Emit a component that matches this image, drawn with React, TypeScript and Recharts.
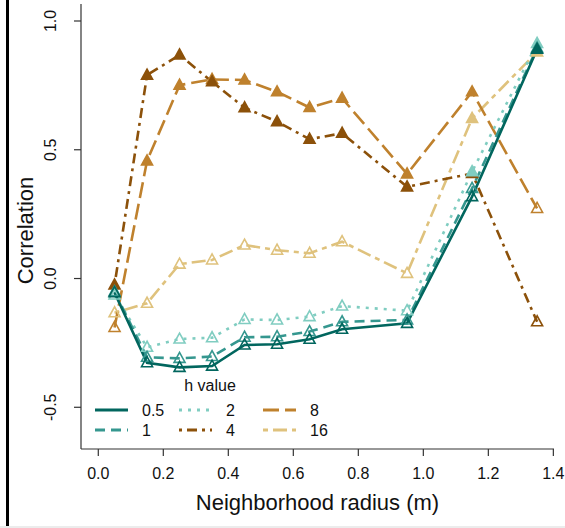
import React from "react";
import { LineChart, Line, XAxis, YAxis, Legend, Label } from "recharts";

// neighborhood radius (m) sampled
const radius = [0.05, 0.15, 0.25, 0.35, 0.45, 0.55, 0.65, 0.75, 0.95, 1.15, 1.35];

// correlation per h value
const h05 = [-0.055, -0.327, -0.345, -0.34, -0.258, -0.255, -0.236, -0.197, -0.174, 0.318, 0.89];
const h1 = [-0.051, -0.306, -0.31, -0.303, -0.228, -0.226, -0.206, -0.168, -0.161, 0.35, 0.895];
const h2 = [-0.064, -0.267, -0.235, -0.23, -0.159, -0.161, -0.148, -0.107, -0.125, 0.415, 0.913];
const h4 = [-0.025, 0.79, 0.868, 0.764, 0.663, 0.609, 0.541, 0.564, 0.356, 0.408, -0.168];
const h8 = [-0.19, 0.457, 0.751, 0.773, 0.771, 0.725, 0.664, 0.7, 0.406, 0.725, 0.272];
const h16 = [-0.133, -0.096, 0.056, 0.072, 0.13, 0.11, 0.098, 0.143, 0.02, 0.622, 0.88];

// filled marker = significant
const sig05 = [false, false, false, false, false, false, false, false, false, false, true];
const sig1 = [false, false, false, false, false, false, false, false, false, false, true];
const sig2 = [false, false, false, false, false, false, false, false, false, true, true];
const sig4 = [true, true, true, true, true, true, true, true, true, true, false];
const sig8 = [false, true, true, true, true, true, true, true, true, true, false];
const sig16 = [false, false, false, false, false, false, false, false, false, true, true];

const xTicks = [0, 0.2, 0.4, 0.6, 0.8, 1.0, 1.2, 1.4];
const yTicks = [-0.5, 0, 0.5, 1.0];

const FONT = '"Liberation Sans", Arial, sans-serif';

const series = [
  { key: "h05", label: "0.5", values: h05, sig: sig05, color: "#01665E", dash: undefined },
  { key: "h1", label: "1", values: h1, sig: sig1, color: "#35978F", dash: "10 6" },
  { key: "h2", label: "2", values: h2, sig: sig2, color: "#80CDC1", dash: "3 6" },
  { key: "h4", label: "4", values: h4, sig: sig4, color: "#8C510A", dash: "3 5 10 5" },
  { key: "h8", label: "8", values: h8, sig: sig8, color: "#BF812D", dash: "16 6" },
  { key: "h16", label: "16", values: h16, sig: sig16, color: "#DFC27D", dash: "5 5 14 5" },
];

const data = radius.map((r, i) => {
  const row: any = { r };
  series.forEach((s) => (row[s.key] = s.values[i]));
  return row;
});

const triangle = (sig: boolean[], color: string) => (p: any) => {
  const { cx, cy, index } = p;
  if (cx == null || cy == null) return <g key={index} />;
  const filled = sig[index];
  const pts = `${cx},${cy - 6} ${cx - 5.5},${cy + 4} ${cx + 5.5},${cy + 4}`;
  return (
    <polygon
      key={index}
      points={pts}
      fill={filled ? color : "none"}
      stroke={color}
      strokeWidth={1.6}
      strokeLinejoin="miter"
    />
  );
};

const XTick = (p: any) => (
  <text x={p.x} y={p.y + 21} textAnchor="middle" fontSize={16} fill="#111" fontFamily={FONT}>
    {Number(p.payload.value).toFixed(1)}
  </text>
);

const YTick = (p: any) => {
  const bx = p.x - 16;
  return (
    <text
      x={bx}
      y={p.y}
      transform={`rotate(-90, ${bx}, ${p.y})`}
      textAnchor="middle"
      fontSize={16}
      fill="#111"
      fontFamily={FONT}
    >
      {Number(p.payload.value).toFixed(1)}
    </text>
  );
};

const YTitle = ({ viewBox }: any) => {
  const cy = viewBox.y + viewBox.height / 2 + 4;
  const bx = 33;
  return (
    <text x={bx} y={cy} transform={`rotate(-90, ${bx}, ${cy})`} textAnchor="middle" fontSize={22} fill="#111" fontFamily={FONT}>
      Correlation
    </text>
  );
};

const XTitle = ({ viewBox }: any) => (
  <text x={viewBox.x + viewBox.width / 2 - 0} y={viewBox.y + 61} textAnchor="middle" fontSize={22} fill="#111" fontFamily={FONT}>
    Neighborhood radius (m)
  </text>
);

const LegendBox = () => {
  const cols = [0, 1, 2];
  return (
    <svg width={260} height={72} style={{ display: "block", overflow: "visible" }}>
      <text x={122} y={19} textAnchor="middle" fontSize={16} fill="#111" fontFamily={FONT}>
        h value
      </text>
      {series.map((s, i) => {
        const col = cols[Math.floor(i / 2)];
        const row = i % 2;
        const lx = 7 + col * 84;
        const ly = 38 + row * 20;
        return (
          <g key={s.key}>
            <line x1={lx} x2={lx + 33} y1={ly} y2={ly} stroke={s.color} strokeWidth={3} strokeDasharray={s.dash} />
            <text x={lx + 47} y={ly + 6} fontSize={16} fill="#111" fontFamily={FONT}>
              {s.label}
            </text>
          </g>
        );
      })}
    </svg>
  );
};

export default function App() {
  const order = [...series].reverse();
  return (
    <div style={{ position: "fixed", left: 0, top: 0, width: 565, height: 528, background: "#fff", overflow: "hidden" }}>
      <div style={{ position: "absolute", left: 6, top: 0, width: 3, height: 526, background: "#000" }} />
      <div style={{ position: "absolute", left: 0, top: 526, width: 565, height: 2, background: "#ececec" }} />
      <div style={{ position: "absolute", left: 0, top: 0 }}>
        <LineChart width={565} height={528} data={data} margin={{ top: 4, right: 11, bottom: 0, left: 0 }}>
          <XAxis
            dataKey="r"
            type="number"
            domain={[-0.0532, 1.402]}
            ticks={xTicks}
            allowDataOverflow
            height={79}
            tickSize={7}
            tick={XTick}
            axisLine={{ stroke: "#333", strokeWidth: 1.2 }}
            tickLine={{ stroke: "#333", strokeWidth: 1.2 }}
          >
            <Label content={XTitle} />
          </XAxis>
          <XAxis
            xAxisId="top"
            orientation="top"
            type="number"
            domain={[0, 1]}
            ticks={[]}
            height={0}
            tick={false}
            tickLine={false}
            axisLine={{ stroke: "#333", strokeWidth: 1.2 }}
          />
          <YAxis
            type="number"
            domain={[-0.662, 1.066]}
            ticks={yTicks}
            allowDataOverflow
            width={81}
            tickSize={7}
            tick={YTick}
            axisLine={{ stroke: "#333", strokeWidth: 1.2 }}
            tickLine={{ stroke: "#333", strokeWidth: 1.2 }}
          >
            <Label content={YTitle} />
          </YAxis>
          <YAxis
            yAxisId="right"
            orientation="right"
            type="number"
            domain={[0, 1]}
            ticks={[]}
            width={0}
            tick={false}
            tickLine={false}
            axisLine={{ stroke: "#333", strokeWidth: 1.2 }}
          />
          {order.map((s) => (
            <Line
              key={s.key}
              dataKey={s.key}
              type="linear"
              stroke={s.color}
              strokeWidth={2.6}
              strokeDasharray={s.dash}
              dot={triangle(s.sig, s.color)}
              activeDot={false}
              isAnimationActive={false}
            />
          ))}
          <Legend
            layout="vertical"
            align="center"
            verticalAlign="middle"
            content={LegendBox}
            wrapperStyle={{ position: "absolute", left: 88, top: 372, width: 260, height: 72 }}
          />
        </LineChart>
      </div>
    </div>
  );
}
